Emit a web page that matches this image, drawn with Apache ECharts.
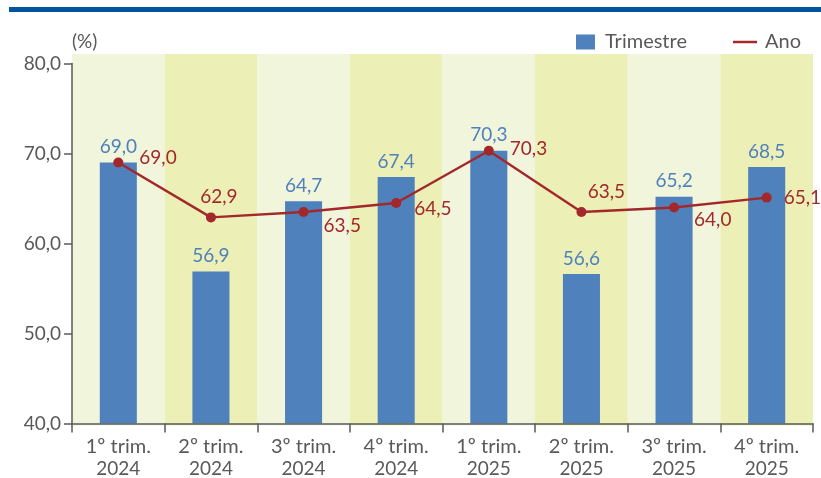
<!DOCTYPE html>
<html>
<head>
<meta charset="utf-8">
<script src="https://cdn.jsdelivr.net/npm/echarts@6/dist/echarts.min.js"></script>
<style>
  html, body { margin: 0; padding: 0; background: #ffffff; }
  #chart { width: 821px; height: 478px; }
</style>
</head>
<body>
<div id="chart"></div>
<script>
// Quarter labels and the two series
const quarters = ['1º trim.', '2º trim.', '3º trim.', '4º trim.', '1º trim.', '2º trim.', '3º trim.', '4º trim.'];
const years = ['2024', '2024', '2024', '2024', '2025', '2025', '2025', '2025'];
const trimestre = [69.0, 56.9, 64.7, 67.4, 70.3, 56.6, 65.2, 68.5];
const ano = [69.0, 62.9, 63.5, 64.5, 70.3, 63.5, 64.0, 65.1];
const yTicks = { min: 40, max: 80, interval: 10 };

const categories = quarters.map((q, i) => q + '\n' + years[i]);

// Where each "Ano" label sits relative to its point
const anoLabelPlacement = [
  { position: 'right', offset: [4, -5] },
  { position: 'top', offset: [8, 0] },
  { position: 'right', offset: [3, 14] },
  { position: 'right', offset: [1, 6] },
  { position: 'right', offset: [4, -2] },
  { position: 'top', offset: [25, 0] },
  { position: 'right', offset: [3, 12] },
  { position: 'right', offset: [0, 0] }
];

const fmt = v => v.toFixed(1).replace('.', ',');
const FONT = 'Lato, "Open Sans", sans-serif';
const GRAY = '#595959';
const BLUE = '#4f81bd';
const RED = '#a3282b';

const chart = echarts.init(document.getElementById('chart'));

chart.setOption({
  animation: false,
  textStyle: { fontFamily: FONT },
  graphic: [
    { type: 'rect', shape: { x: 9, y: 7, width: 812, height: 5 }, style: { fill: '#00559c' }, silent: true }
  ],
  legend: [
    {
      left: 576,
      top: 32,
      padding: 0,
      itemWidth: 19,
      itemHeight: 15,
      textStyle: { fontFamily: FONT, fontSize: 20, color: GRAY, padding: [0, 0, 0, 5] },
      data: [{ name: 'Trimestre', icon: 'rect', itemStyle: { color: BLUE } }]
    },
    {
      left: 733,
      top: 32,
      padding: 0,
      itemWidth: 24,
      itemHeight: 2.5,
      textStyle: { fontFamily: FONT, fontSize: 20, color: GRAY, padding: [0, 0, 0, 3] },
      data: [{ name: 'Ano', icon: 'rect', itemStyle: { color: RED } }]
    }
  ],
  grid: [
    { left: 72, right: 8, top: 63.5, bottom: 52.5 },
    { left: 72, right: 8, top: 54, bottom: 52.5 }
  ],
  xAxis: [
    {
      type: 'category',
      gridIndex: 0,
      data: categories,
      boundaryGap: true,
      axisLine: { lineStyle: { color: GRAY, width: 1.5 } },
      axisTick: { show: true, length: 9, interval: 0, lineStyle: { color: GRAY, width: 1.5 } },
      axisLabel: {
        color: GRAY,
        margin: 12,
        interval: 0,
        formatter: (val, i) => '{q|' + quarters[i] + '}\n{y|' + years[i] + '}',
        rich: {
          q: { fontFamily: FONT, fontSize: 20, color: GRAY, lineHeight: 22 },
          y: { fontFamily: FONT, fontSize: 19, color: GRAY, lineHeight: 22 }
        }
      },
      z: 5
    },
    {
      type: 'category',
      gridIndex: 1,
      data: categories,
      boundaryGap: true,
      axisLine: { show: false },
      axisTick: { show: false },
      axisLabel: { show: false },
      splitArea: { show: true, interval: 0, areaStyle: { color: ['#f0f5db', '#ecefb6'] } },
      z: 0
    }
  ],
  yAxis: [
    {
      type: 'value',
      gridIndex: 0,
      min: yTicks.min,
      max: yTicks.max,
      interval: yTicks.interval,
      name: '(%)',
      nameLocation: 'end',
      nameGap: 12,
      nameTextStyle: { color: GRAY, fontSize: 19, align: 'left', padding: [0, 0, 0, 0] },
      axisLine: { show: true, lineStyle: { color: GRAY, width: 1.5 } },
      axisTick: { show: true, length: 8, lineStyle: { color: GRAY, width: 1.5 } },
      axisLabel: { color: GRAY, fontSize: 19, margin: 11, formatter: v => fmt(v) },
      splitLine: { show: false },
      z: 5
    },
    {
      type: 'value',
      gridIndex: 1,
      min: 0,
      max: 1,
      show: false
    }
  ],
  series: [
    {
      name: 'stripes',
      type: 'bar',
      xAxisIndex: 1,
      yAxisIndex: 1,
      data: [],
      silent: true
    },
    {
      name: 'Trimestre',
      type: 'bar',
      xAxisIndex: 0,
      yAxisIndex: 0,
      barWidth: '40%',
      itemStyle: { color: BLUE },
      label: {
        show: true,
        position: 'top',
        distance: 6,
        color: '#4f81bd',
        fontSize: 19,
        formatter: p => fmt(p.value)
      },
      data: trimestre,
      z: 2
    },
    {
      name: 'Ano',
      type: 'line',
      xAxisIndex: 0,
      yAxisIndex: 0,
      symbol: 'circle',
      symbolSize: 10,
      lineStyle: { color: RED, width: 2.4 },
      itemStyle: { color: RED },
      label: { show: true, color: RED, fontSize: 19, distance: 12 },
      data: ano.map((v, i) => ({
        value: v,
        label: {
          position: anoLabelPlacement[i].position,
          offset: anoLabelPlacement[i].offset,
          distance: anoLabelPlacement[i].position === 'top' ? 6 : 12,
          formatter: fmt(v)
        }
      })),
      z: 3
    }
  ]
});
</script>
</body>
</html>
